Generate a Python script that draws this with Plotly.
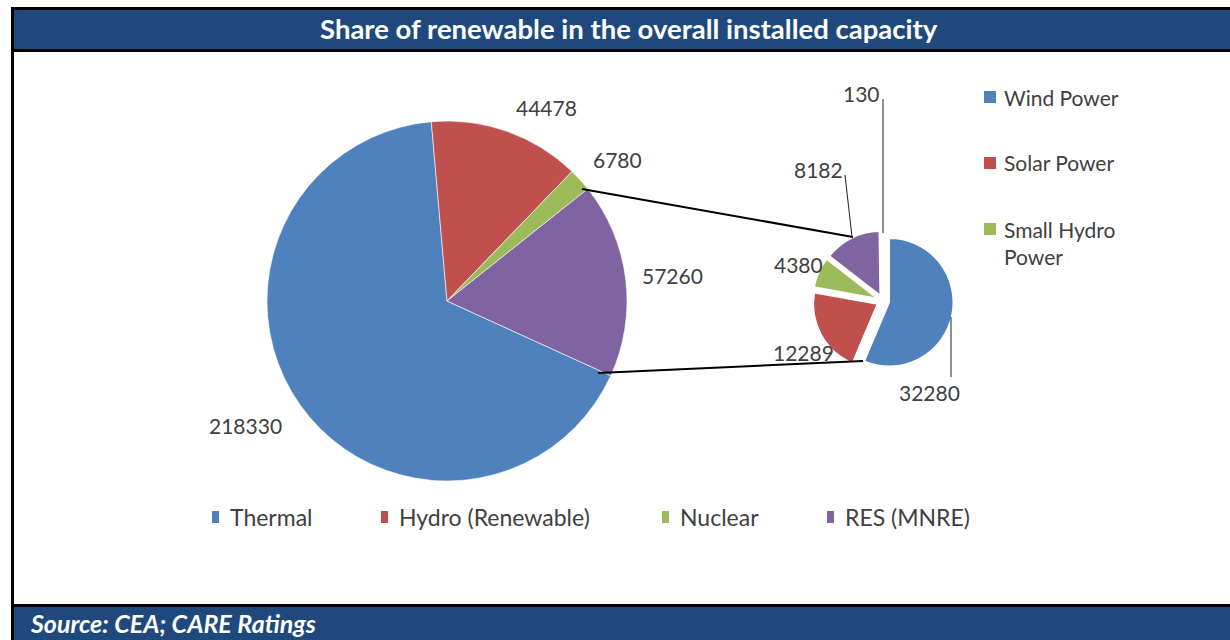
import plotly.graph_objects as go

# ---------------- data ----------------
main_labels = ["Thermal", "Hydro (Renewable)", "Nuclear", "RES (MNRE)"]
main_values = [218330, 44478, 6780, 57260]

res_labels = ["Wind Power", "Solar Power", "Small Hydro Power", "Bio-Power", "Waste to Energy"]
res_values = [32280, 12289, 4380, 8182, 130]
res_legend_labels = ["Wind Power", "Solar Power", "Small Hydro<br>Power"]

title_text = "Share of renewable in the overall installed capacity"
source_text = "Source: CEA; CARE Ratings"

main_colors = ["#4F81BD", "#C0504D", "#9BBB59", "#8064A2"]
res_colors = ["#4F81BD", "#C0504D", "#9BBB59", "#8064A2", "#4BACC6"]

# ---------------- geometry helpers ----------------
W, H = 1230, 640
def px(x):
    return x / W
def py(y):
    return 1 - y / H

FONT = "Lato"
TXT = "#404040"
BAR = "#1F497D"

# main pie: centre (447,301) r=180 ; Hydro begins just left of 12 o'clock
mcx, mcy, mr = 447, 301, 180
thermal_deg = main_values[0] / sum(main_values) * 360
main_rotation = 355 - thermal_deg

# secondary pie
scx, scy, sr, pull = 883, 301, 64, 0.1
sR = sr * (1 + pull)

fig = go.Figure()
fig.add_trace(go.Pie(
    labels=main_labels, values=main_values, sort=False, direction="clockwise",
    rotation=main_rotation, textinfo="none", showlegend=False,
    marker=dict(colors=main_colors, line=dict(color="rgba(255,255,255,0.6)", width=1)),
    domain=dict(x=[px(mcx - mr), px(mcx + mr)], y=[py(mcy + mr), py(mcy - mr)]),
))
fig.add_trace(go.Pie(
    labels=res_labels, values=res_values, sort=False, direction="clockwise",
    rotation=0, textinfo="none", showlegend=False, pull=[pull] * len(res_values),
    marker=dict(colors=res_colors, line=dict(color="white", width=1.5)),
    domain=dict(x=[px(scx - sR), px(scx + sR)], y=[py(scy + sR), py(scy - sR)]),
))

shapes = []
def rect(x0, y0, x1, y1, color):
    shapes.append(dict(type="rect", xref="paper", yref="paper",
                       x0=px(x0), x1=px(x1), y0=py(y1), y1=py(y0),
                       fillcolor=color, line=dict(width=0), layer="above"))
def line(x0, y0, x1, y1, color="black", width=1):
    shapes.append(dict(type="line", xref="paper", yref="paper",
                       x0=px(x0), y0=py(y0), x1=px(x1), y1=py(y1),
                       line=dict(color=color, width=width), layer="above"))

# frame, title bar, footer bar
rect(14, 10, 1230, 49, BAR)
rect(14, 607, 1230, 640, BAR)
rect(11, 7, 1230, 10, "black")
rect(11, 7, 14, 640, "black")
rect(14, 49, 1230, 52, "black")
rect(14, 604, 1230, 607, "black")

# series connector lines
line(582, 189, 853, 237, "black", 2)
line(598, 373, 863, 361, "black", 2)
# leader lines in the secondary pie
line(883, 99, 883, 233, "#202020", 1)
line(845, 175, 852, 237, "#202020", 1)
line(951, 317, 951, 377, "#202020", 1)

annotations = []
def text(x, y, s, size=21, color=TXT, xanchor="center", bold=False, italic=False, family=FONT):
    if bold:
        s = "<b>" + s + "</b>"
    if italic:
        s = "<i>" + s + "</i>"
    annotations.append(dict(x=px(x), y=py(y), xref="paper", yref="paper", text=s,
                            showarrow=False, xanchor=xanchor, yanchor="middle",
                            align="left" if xanchor == "left" else "center",
                            font=dict(family=family, size=size, color=color)))

text(629, 29, title_text, size=27.5, color="white", bold=True)
text(28, 623, source_text, size=25, color="white", xanchor="left", bold=True, italic=True)

# data labels (positions are layout, values come from data)
main_label_pos = [(245, 425), (546, 107), (617, 159), (672, 275)]
for (x, y), v in zip(main_label_pos, main_values):
    text(x, y, str(v))
res_label_pos = [(929, 392), (803, 352), (799, 264), (818, 169), (861, 94)]
for (x, y), v in zip(res_label_pos, res_values):
    text(x, y, str(v))

# main legend (bottom)
main_leg_x = [212, 381, 662, 827]
for x, lab, col in zip(main_leg_x, main_labels, main_colors):
    rect(x, 511, x + 7, 523, col)
    text(x + 16, 517, lab, size=23, xanchor="left")

# secondary legend (right)
res_leg_y = [97, 163, 243]
for y, lab, col in zip(res_leg_y, res_legend_labels, res_colors):
    sy = y if "<br>" not in lab else y - 14
    rect(984, sy - 6, 996, sy + 6, col)
    text(1002, y, lab, size=21, xanchor="left")

fig.update_layout(
    width=W, height=H, margin=dict(l=0, r=0, t=0, b=0),
    paper_bgcolor="white", plot_bgcolor="white",
    shapes=shapes, annotations=annotations, showlegend=False,
)
fig.write_html("out.html")
